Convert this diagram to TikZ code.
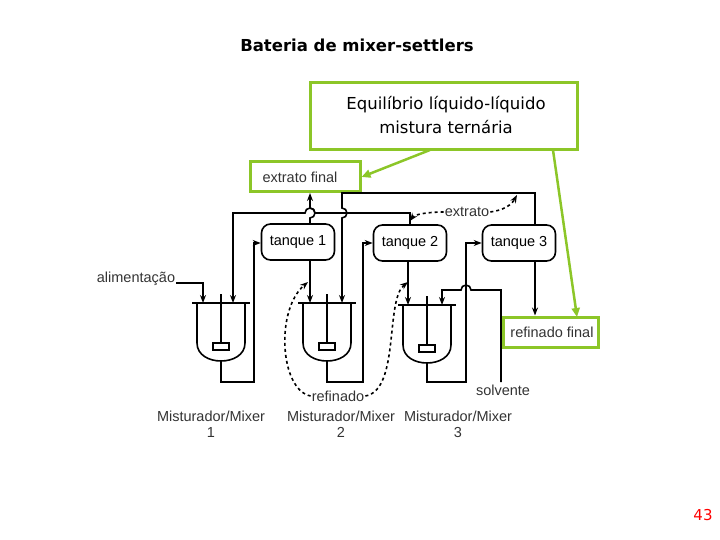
\documentclass[tikz,border=0pt]{standalone}
\usepackage{fontspec}
\setmainfont{Liberation Sans}
\newfontfamily\comic{DejaVu Sans}
\usetikzlibrary{arrows.meta}
\definecolor{grn}{RGB}{140,198,40}
\begin{document}
\begin{tikzpicture}[x=1pt,y=-1pt,
  ln/.style={line width=1.6pt,black},
  ar/.style={ln,-{Stealth[length=8pt,width=6pt]}},
  da/.style={ln,dashed,-{Stealth[length=8pt,width=6pt]}},
  tank/.style={draw,line width=1.6pt,rounded corners=9pt,minimum width=73pt,minimum height=36pt,font=\fontsize{14.5}{16}\selectfont},
  gbox/.style={draw=grn,line width=3pt,inner sep=0pt},
  lab/.style={font=\fontsize{14.5}{16}\selectfont,text=black!80,align=center,inner sep=1pt},
  garr/.style={grn,line width=2.5pt,-{Triangle[length=9pt,width=8pt]}}]
\useasboundingbox (0,0) rectangle (720,540);
\node[font=\comic\bfseries\fontsize{16.5}{18}\selectfont] (title) at (357,45) {Bateria de mixer-settlers};
\node[gbox,minimum width=267pt,minimum height=67pt] (eq) at (443.5,116.5) {};
\node[font=\comic\fontsize{16.5}{24}\selectfont,align=center] (eqt) at (446,115) {Equilíbrio líquido-líquido\\mistura ternária};
\node[gbox,minimum width=110pt,minimum height=30pt] (ef) at (305,177) {};
\node[lab] (eft) at (300,177) {extrato final};
\node[gbox,minimum width=95pt,minimum height=30pt] (rf) at (550.5,332) {};
\node[lab] (rft) at (552,332) {refinado final};
\draw[garr] (430,150) -- (ef.east);
\draw[garr] (553,150) -- (577,317);
% tanks
\node[tank] (t1) at (298,242) {tanque 1};
\node[tank] (t2) at (410,243) {tanque 2};
\node[tank] (t3) at (519,243) {tanque 3};
% mixers
\foreach \n/\cx/\ly in {m1/221/303,m2/327/303,m3/427/305}{
  \coordinate (\n) at (\cx,\ly);
  \draw[ln] (\cx-29,\ly) -- (\cx+29,\ly);
  \draw[ln] (\cx-24,\ly) -- (\cx-24,\ly+40) .. controls (\cx-24,\ly+52) and (\cx-12,\ly+58) .. (\cx,\ly+58)
     .. controls (\cx+12,\ly+58) and (\cx+24,\ly+52) .. (\cx+24,\ly+40) -- (\cx+24,\ly);
  \draw[ln] (\cx,\ly-9) -- (\cx,\ly+40);
  \draw[ln] (\cx-8,\ly+40) rectangle (\cx+8,\ly+47);
}
% outlets of mixers to tanks
\draw[ar] (221,361) -- (221,382) -- (254,382) -- (254,243) -- (t1.west|-254,243);
\draw[ar] (327,361) -- (327,382) -- (363,382) -- (363,243) -- (t2.west|-363,243);
\draw[ar] (427,363) -- (427,382) -- (466,382) -- (466,243) -- (t3.west|-466,243);
% feed
\node[lab] (al) at (136,279) {alimentação};
\draw[ar] (al.east|-0,283) -- (203,283) -- (203,303);
% extract tank1 -> final
\draw[ar] (t1.north-|310,0) -- (310,218) arc[start angle=-90,end angle=90,radius=5pt] -- (310,193);
% tank2 -> mixer1
\draw[ar] (t2.north-|410,0) -- (410,213) -- (315,213) arc[start angle=0,end angle=180,radius=5pt] -- (233,213) -- (233,303);
% tank3 -> mixer2
\draw[ar] (t3.north-|535,0) -- (535,193) -- (342,193) -- (342,208) arc[start angle=90,end angle=-90,radius=5pt] -- (342,303);
% raffinates
\draw[ar] (t1.south-|310,0) -- (310,303);
\draw[ar] (t2.south-|408,0) -- (408,305);
\draw[ar] (t3.south-|535,0) -- (rf.north-|535,0);
% solvent
\node[lab] (sol) at (503,390) {solvente};
\draw[ar] (501,382) -- (501,290) -- (471,290) arc[start angle=0,end angle=180,radius=5pt] -- (442,290) -- (442,305);
% dashed
\node[lab] (ex) at (467,212) {extrato};
\draw[da] (ex.west) .. controls (430,212) and (415,214) .. (410,221);
\draw[da] (ex.east) .. controls (505,210) and (512,204) .. (517,195);
\node[lab] (ref) at (338,396) {refinado};
\draw[da] (ref.west) .. controls (280,390) and (275,310) .. (308,282);
\draw[da] (ref.east) .. controls (400,390) and (385,300) .. (408,282);
% labels
\node[lab] (l1) at (211,424) {Misturador/Mixer\\1};
\node[lab] (l2) at (341,424) {Misturador/Mixer\\2};
\node[lab] (l3) at (458,424) {Misturador/Mixer\\3};
\node[text=red,font=\comic\fontsize{15}{17}\selectfont] (pg) at (703,515) {43};
\end{tikzpicture}
\end{document}
